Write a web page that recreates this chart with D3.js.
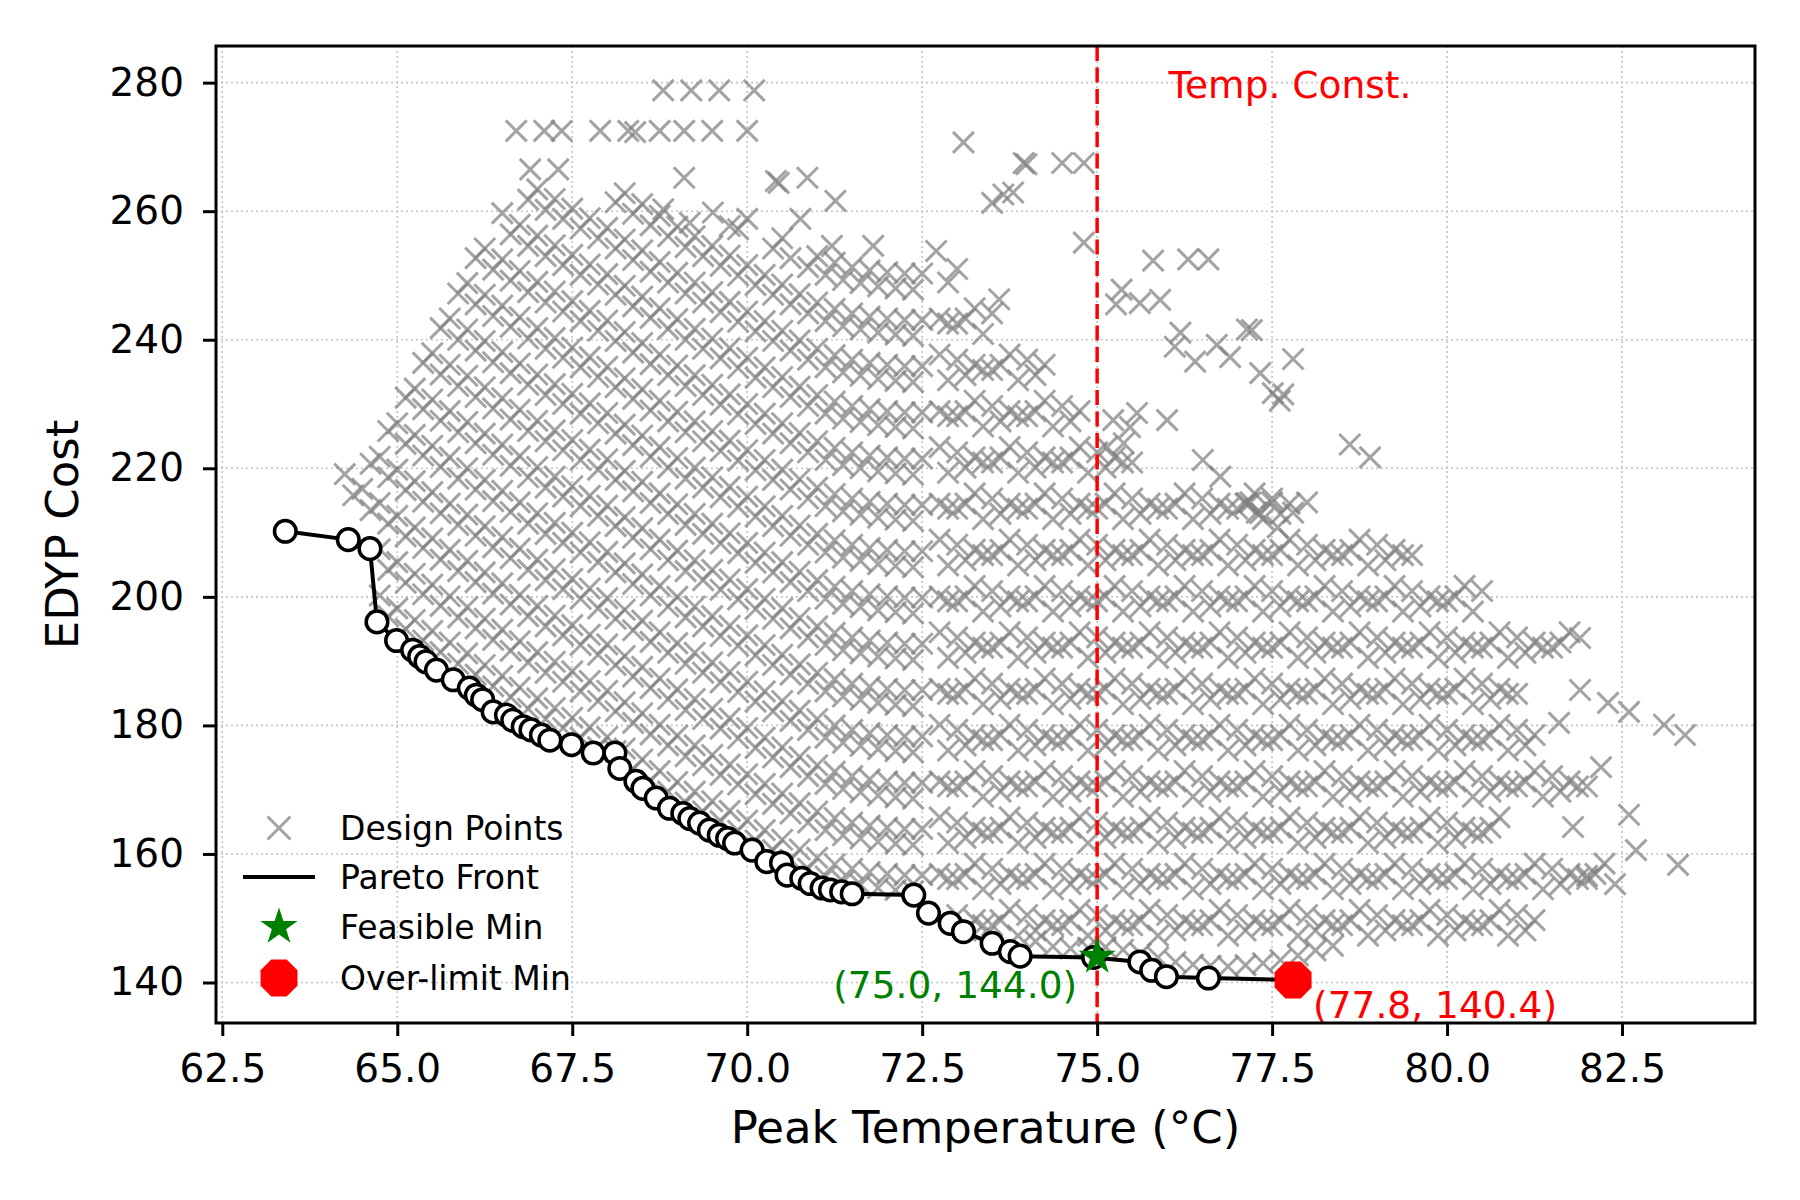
<!DOCTYPE html>
<html>
<head>
<meta charset="utf-8">
<script src="https://cdn.jsdelivr.net/npm/d3@7"></script>
<style>
body { margin: 0; background: #fff; }
svg text { font-family: "DejaVu Sans", sans-serif; }
</style>
</head>
<body>
<div id="canvas"></div>
<script>
var width = 1800
var height = 1200
var plotLeft = 216, plotRight = 1755, plotTop = 46, plotBottom = 1023

// tick labels
var xTicks = [62.5, 65, 67.5, 70, 72.5, 75, 77.5, 80, 82.5]
var yTicks = [140, 160, 180, 200, 220, 240, 260, 280]

// pareto front (peak temperature, EDYP cost)
var paretoFront = [[63.40,210.2],[64.30,208.9],[64.61,207.5],[64.71,196.1],[64.99,193.2],[65.22,191.7],[65.32,190.7],[65.41,189.9],[65.56,188.6],[65.80,187.1],[66.03,185.8],[66.13,184.7],[66.22,184.0],[66.37,182.1],[66.56,181.6],[66.65,180.8],[66.80,179.8],[66.91,179.3],[67.06,178.5],[67.18,177.7],[67.49,177.0],[67.80,175.7],[68.11,175.7],[68.18,173.3],[68.41,171.3],[68.51,170.2],[68.70,168.7],[68.89,167.1],[69.08,166.3],[69.18,165.5],[69.32,164.8],[69.46,163.7],[69.60,162.9],[69.72,162.4],[69.82,161.7],[70.07,160.6],[70.28,158.8],[70.49,158.6],[70.57,156.7],[70.78,156.2],[70.90,155.4],[71.07,154.7],[71.19,154.4],[71.35,154.1],[71.50,153.8],[72.38,153.6],[72.59,150.8],[72.90,149.2],[73.09,147.9],[73.50,146.1],[73.76,144.8],[73.90,144.1],[74.95,143.9],[75.61,143.2],[75.78,141.9],[75.99,140.9],[76.59,140.7],[77.80,140.4]]

var feasibleMin = [75.0, 144.0]
var overLimitMin = [77.8, 140.4]
var tempLimit = 75.0

// design points, left block (below 72.5 C), one array per band
var designA0 = [[64.75,200.2],[65,198.2],[65.25,196.4],[65.5,194.7],[65.75,192.9],[66,191.2],[66.25,189.4],[66.5,187.7],[66.75,185.9],[67,184.2],[67.25,182.7],[67.5,181.2],[67.75,179.7],[68,178.2],[68.25,176.4],[68.5,174.7],[68.75,172.9],[69,171.2],[69.25,169.7],[69.5,168.2],[69.75,166.7],[70,165.2],[70.25,163.7],[70.5,162.2],[70.75,160.7],[71,159.4],[71.25,158.4],[71.5,157.7],[71.75,157.2],[72,156.9],[72.25,156.7],[72.5,156.7],
  [64.87,197],[65.12,195],[65.37,193.2],[65.62,191.4],[65.87,189.6],[66.12,187.9],[66.37,186.1],[66.62,184.4],[66.87,182.6],[67.12,181],[67.37,179.6],[67.62,178.1],[67.87,176.6],[68.12,176],[68.37,173.2],[68.62,171.4],[68.87,169.7],[69.12,168],[69.37,166.6],[69.62,165.1],[69.87,163.6],[70.12,162.1],[70.37,160.6],[70.62,159.1],[70.87,157.7],[71.12,156.5],[71.37,155.7],[71.62,155.2],[71.87,154.7],[72.12,154.4],[72.37,154.2]]
var designA1 = [[64.75,207.4],[65,205.4],[65.25,203.6],[65.5,201.9],[65.75,200.1],[66,198.4],[66.25,196.6],[66.5,194.9],[66.75,193.1],[67,191.4],[67.25,189.9],[67.5,188.4],[67.75,186.9],[68,185.4],[68.25,183.6],[68.5,181.9],[68.75,180.1],[69,178.4],[69.25,176.9],[69.5,175.4],[69.75,173.9],[70,172.4],[70.25,170.9],[70.5,169.4],[70.75,167.9],[71,166.6],[71.25,165.6],[71.5,164.9],[71.75,164.4],[72,164.1],[72.25,163.9],[72.5,163.9],
  [64.87,204.2],[65.12,202.2],[65.37,200.4],[65.62,198.6],[65.87,196.8],[66.12,195.1],[66.37,193.3],[66.62,191.6],[66.87,189.8],[67.12,188.2],[67.37,186.8],[67.62,185.3],[67.87,183.8],[68.12,182.2],[68.37,180.4],[68.62,178.6],[68.87,176.9],[69.12,175.2],[69.37,173.8],[69.62,172.3],[69.87,170.8],[70.12,169.3],[70.37,167.8],[70.62,166.3],[70.87,164.9],[71.12,163.7],[71.37,162.9],[71.62,162.4],[71.87,161.9],[72.12,161.6],[72.37,161.4]]
var designA2 = [[64.25,219.1],[64.5,216.8],[64.75,214.6],[65,212.6],[65.25,210.8],[65.5,209.1],[65.75,207.3],[66,205.6],[66.25,203.8],[66.5,202.1],[66.75,200.3],[67,198.6],[67.25,197.1],[67.5,195.6],[67.75,194.1],[68,192.6],[68.25,190.8],[68.5,189.1],[68.75,187.3],[69,185.6],[69.25,184.1],[69.5,182.6],[69.75,181.1],[70,179.6],[70.25,178.1],[70.5,176.6],[70.75,175.1],[71,173.8],[71.25,172.8],[71.5,172.1],[71.75,171.6],[72,171.3],[72.25,171.1],[72.5,171.1],
  [64.37,215.8],[64.62,213.5],[64.87,211.4],[65.12,209.4],[65.37,207.6],[65.62,205.8],[65.87,204],[66.12,202.3],[66.37,200.5],[66.62,198.8],[66.87,197],[67.12,195.4],[67.37,194],[67.62,192.5],[67.87,191],[68.12,189.4],[68.37,187.6],[68.62,185.8],[68.87,184.1],[69.12,182.4],[69.37,181],[69.62,179.5],[69.87,178],[70.12,176.5],[70.37,175],[70.62,173.5],[70.87,172.1],[71.12,170.9],[71.37,170.1],[71.62,169.6],[71.87,169.1],[72.12,168.8],[72.37,168.6]]
var designA3 = [[64.75,221.8],[65,219.8],[65.25,218],[65.5,216.3],[65.75,214.5],[66,212.8],[66.25,211],[66.5,209.3],[66.75,207.5],[67,205.8],[67.25,204.3],[67.5,202.8],[67.75,201.3],[68,199.8],[68.25,198],[68.5,196.3],[68.75,194.5],[69,192.8],[69.25,191.3],[69.5,189.8],[69.75,188.3],[70,186.8],[70.25,185.3],[70.5,183.8],[70.75,182.3],[71,181],[71.25,180],[71.5,179.3],[71.75,178.8],[72,178.5],[72.25,178.3],[72.5,178.3],
  [64.62,220.7],[64.87,218.6],[65.12,216.6],[65.37,214.8],[65.62,213],[65.87,211.2],[66.12,209.5],[66.37,207.7],[66.62,206],[66.87,204.2],[67.12,202.6],[67.37,201.2],[67.62,199.7],[67.87,198.2],[68.12,196.6],[68.37,194.8],[68.62,193],[68.87,191.3],[69.12,189.6],[69.37,188.2],[69.62,186.7],[69.87,185.2],[70.12,183.7],[70.37,182.2],[70.62,180.7],[70.87,179.3],[71.12,178.1],[71.37,177.3],[71.62,176.8],[71.87,176.3],[72.12,176],[72.37,175.8]]
var designA4 = [[65,227],[65.25,225.2],[65.5,223.5],[65.75,221.7],[66,220],[66.25,218.2],[66.5,216.5],[66.75,214.7],[67,213],[67.25,211.5],[67.5,210],[67.75,208.5],[68,207],[68.25,205.2],[68.5,203.5],[68.75,201.7],[69,200],[69.25,198.5],[69.5,197],[69.75,195.5],[70,194],[70.25,192.5],[70.5,191],[70.75,189.5],[71,188.2],[71.25,187.2],[71.5,186.5],[71.75,186],[72,185.7],[72.25,185.5],[72.5,185.5],
  [64.87,225.8],[65.12,223.8],[65.37,222],[65.62,220.2],[65.87,218.4],[66.12,216.7],[66.37,214.9],[66.62,213.2],[66.87,211.4],[67.12,209.8],[67.37,208.4],[67.62,206.9],[67.87,205.4],[68.12,203.8],[68.37,202],[68.62,200.2],[68.87,198.5],[69.12,196.8],[69.37,195.4],[69.62,193.9],[69.87,192.4],[70.12,190.9],[70.37,189.4],[70.62,187.9],[70.87,186.5],[71.12,185.3],[71.37,184.5],[71.62,184],[71.87,183.5],[72.12,183.2],[72.37,183]]
var designA5 = [[65.25,232.4],[65.5,230.7],[65.75,228.9],[66,227.2],[66.25,225.4],[66.5,223.7],[66.75,221.9],[67,220.2],[67.25,218.7],[67.5,217.2],[67.75,215.7],[68,214.2],[68.25,212.4],[68.5,210.7],[68.75,208.9],[69,207.2],[69.25,205.7],[69.5,204.2],[69.75,202.7],[70,201.2],[70.25,199.7],[70.5,198.2],[70.75,196.7],[71,195.4],[71.25,194.4],[71.5,193.7],[71.75,193.2],[72,192.9],[72.25,192.7],[72.5,192.7],
  [65.12,231],[65.37,229.2],[65.62,227.4],[65.87,225.6],[66.12,223.9],[66.37,222.1],[66.62,220.4],[66.87,218.6],[67.12,217],[67.37,215.6],[67.62,214.1],[67.87,212.6],[68.12,211],[68.37,209.2],[68.62,207.4],[68.87,205.7],[69.12,204],[69.37,202.6],[69.62,201.1],[69.87,199.6],[70.12,198.1],[70.37,196.6],[70.62,195.1],[70.87,193.7],[71.12,192.5],[71.37,191.7],[71.62,191.2],[71.87,190.7],[72.12,190.4],[72.37,190.2]]
var designA6 = [[65.5,237.9],[65.75,236.1],[66,234.4],[66.25,232.6],[66.5,230.9],[66.75,229.1],[67,227.4],[67.25,225.9],[67.5,224.4],[67.75,222.9],[68,221.4],[68.25,219.6],[68.5,217.9],[68.75,216.1],[69,214.4],[69.25,212.9],[69.5,211.4],[69.75,209.9],[70,208.4],[70.25,206.9],[70.5,205.4],[70.75,203.9],[71,202.6],[71.25,201.6],[71.5,200.9],[71.75,200.4],[72,200.1],[72.25,199.9],[72.5,199.9],
  [65.37,236.4],[65.62,234.6],[65.87,232.8],[66.12,231.1],[66.37,229.3],[66.62,227.6],[66.87,225.8],[67.12,224.2],[67.37,222.8],[67.62,221.3],[67.87,219.8],[68.12,218.2],[68.37,216.4],[68.62,214.6],[68.87,212.9],[69.12,211.2],[69.37,209.8],[69.62,208.3],[69.87,206.8],[70.12,205.3],[70.37,203.8],[70.62,202.3],[70.87,200.9],[71.12,199.7],[71.37,198.9],[71.62,198.4],[71.87,197.9],[72.12,197.6],[72.37,197.4]]
var designA7 = [[65.75,243.3],[66,241.6],[66.25,239.8],[66.5,238.1],[66.75,236.3],[67,234.6],[67.25,233.1],[67.5,231.6],[67.75,230.1],[68,228.6],[68.25,226.8],[68.5,225.1],[68.75,223.3],[69,221.6],[69.25,220.1],[69.5,218.6],[69.75,217.1],[70,215.6],[70.25,214.1],[70.5,212.6],[70.75,211.1],[71,209.8],[71.25,208.8],[71.5,208.1],[71.75,207.6],[72,207.3],[72.25,207.1],[72.5,207.1],
  [65.62,241.8],[65.87,240],[66.12,238.3],[66.37,236.5],[66.62,234.8],[66.87,233],[67.12,231.4],[67.37,230],[67.62,228.5],[67.87,227],[68.12,225.4],[68.37,223.6],[68.62,221.8],[68.87,220.1],[69.12,218.4],[69.37,217],[69.62,215.5],[69.87,214],[70.12,212.5],[70.37,211],[70.62,209.5],[70.87,208.1],[71.12,206.9],[71.37,206.1],[71.62,205.6],[71.87,205.1],[72.12,204.8],[72.37,204.6]]
var designA8 = [[66,248.8],[66.25,247],[66.5,245.3],[66.75,243.5],[67,241.8],[67.25,240.3],[67.5,238.8],[67.75,237.3],[68,235.8],[68.25,234],[68.5,232.3],[68.75,230.5],[69,228.8],[69.25,227.3],[69.5,225.8],[69.75,224.3],[70,222.8],[70.25,221.3],[70.5,219.8],[70.75,218.3],[71,217],[71.25,216],[71.5,215.3],[71.75,214.8],[72,214.5],[72.25,214.3],[72.5,214.3],
  [65.87,247.2],[66.12,245.5],[66.37,243.7],[66.62,242],[66.87,240.2],[67.12,238.6],[67.37,237.2],[67.62,235.7],[67.87,234.2],[68.12,232.6],[68.37,230.8],[68.62,229],[68.87,227.3],[69.12,225.6],[69.37,224.2],[69.62,222.7],[69.87,221.2],[70.12,219.7],[70.37,218.2],[70.62,216.7],[70.87,215.3],[71.12,214.1],[71.37,213.3],[71.62,212.8],[71.87,212.3],[72.12,212],[72.37,211.8]]
var designA9 = [[66.25,254.2],[66.5,252.5],[66.75,250.7],[67,249],[67.25,247.5],[67.5,246],[67.75,244.5],[68,243],[68.25,241.2],[68.5,239.5],[68.75,237.7],[69,236],[69.25,234.5],[69.5,233],[69.75,231.5],[70,230],[70.25,228.5],[70.5,227],[70.75,225.5],[71,224.2],[71.25,223.2],[71.5,222.5],[71.75,222],[72,221.7],[72.25,221.5],[72.5,221.5],
  [66.12,252.7],[66.37,250.9],[66.62,249.2],[66.87,247.4],[67.12,245.8],[67.37,244.4],[67.62,242.9],[67.87,241.4],[68.12,239.8],[68.37,238],[68.62,236.2],[68.87,234.5],[69.12,232.8],[69.37,231.4],[69.62,229.9],[69.87,228.4],[70.12,226.9],[70.37,225.4],[70.62,223.9],[70.87,222.5],[71.12,221.3],[71.37,220.5],[71.62,220],[71.87,219.5],[72.12,219.2],[72.37,219]]
var designA10 = [[66.5,259.7],[66.75,257.9],[67,256.2],[67.25,254.7],[67.5,253.2],[67.75,251.7],[68,250.2],[68.25,248.4],[68.5,246.7],[68.75,244.9],[69,243.2],[69.25,241.7],[69.5,240.2],[69.75,238.7],[70,237.2],[70.25,235.7],[70.5,234.2],[70.75,232.7],[71,231.4],[71.25,230.4],[71.5,229.7],[71.75,229.2],[72,228.9],[72.25,228.7],[72.5,228.7],
  [66.62,256.4],[66.87,254.6],[67.12,253],[67.37,251.6],[67.62,250.1],[67.87,248.6],[68.12,247],[68.37,245.2],[68.62,243.4],[68.87,241.7],[69.12,240],[69.37,238.6],[69.62,237.1],[69.87,235.6],[70.12,234.1],[70.37,232.6],[70.62,231.1],[70.87,229.7],[71.12,228.5],[71.37,227.7],[71.62,227.2],[71.87,226.7],[72.12,226.4],[72.37,226.2]]
var designA11 = [[67,263.4],[67.25,261.9],[67.5,260.4],[67.75,258.9],[68,257.4],[68.25,255.6],[68.5,253.9],[68.75,252.1],[69,250.4],[69.25,248.9],[69.5,247.4],[69.75,245.9],[70,244.4],[70.25,242.9],[70.5,241.4],[70.75,239.9],[71,238.6],[71.25,237.6],[71.5,236.9],[71.75,236.4],[72,236.1],[72.25,235.9],[72.5,235.9],
  [66.87,261.8],[67.12,260.2],[67.37,258.8],[67.62,257.3],[67.87,255.8],[68.12,254.2],[68.37,252.4],[68.62,250.6],[68.87,248.9],[69.12,247.2],[69.37,245.8],[69.62,244.3],[69.87,242.8],[70.12,241.3],[70.37,239.8],[70.62,238.3],[70.87,236.9],[71.12,235.7],[71.37,234.9],[71.62,234.4],[71.87,233.9],[72.12,233.6],[72.37,233.4]]
var designA12 = [[68.25,262.8],[68.5,261.1],[68.75,259.3],[69,257.6],[69.25,256.1],[69.5,254.6],[69.75,253.1],[70,251.6],[70.25,250.1],[70.5,248.6],[70.75,247.1],[71,245.8],[71.25,244.8],[71.5,244.1],[71.75,243.6],[72,243.3],[72.25,243.1],[72.5,243.1],
  [68.12,261.4],[68.37,259.6],[68.62,257.8],[68.87,256.1],[69.12,254.4],[69.37,253],[69.62,251.5],[69.87,250],[70.12,248.5],[70.37,247],[70.62,245.5],[70.87,244.1],[71.12,242.9],[71.37,242.1],[71.62,241.6],[71.87,241.1],[72.12,240.8],[72.37,240.6]]
var designA13 = [[70,258.8],[70.5,255.8],[71,253],[71.25,252],[71.5,251.3],[71.75,250.8],[72,250.5],[72.25,250.3],[72.5,250.3],
  [69.87,257.2],[70.37,254.2],[70.62,252.7],[70.87,251.3],[71.12,250.1],[71.37,249.3],[71.62,248.8],[71.87,248.3],[72.12,248],[72.37,247.8]]

// design points, right block (crossing chains), one array per band
var designB0 = [[73,150.5],[73.25,149.7],[73.5,148.9],[73.75,151.3],[74,150.5],[74.25,149.7],[74.5,148.9],[74.75,151.3],[75,150.5],[75.25,149.7],[75.5,148.9],[75.75,151.3],[76,150.5],[76.25,149.7],[76.5,148.9],[76.75,151.3],[77,150.5],[77.25,149.7],[77.5,148.9],[77.75,151.3],[78,150.5],[78.25,149.7],[78.5,148.9],[78.75,151.3],[79,150.5],[79.25,149.7],[79.5,148.9],[79.75,151.3],[80,150.5],[80.25,149.7],[80.5,148.9],[80.75,151.3],[81,150.5],[81.25,149.7],
  [73.12,148.1],[73.37,148.9],[73.62,149.7],[73.87,147.3],[74.12,148.1],[74.37,148.9],[74.62,149.7],[74.87,147.3],[75.12,148.1],[75.37,148.9],[75.62,149.7],[75.87,147.3],[76.12,148.1],[76.37,148.9],[76.62,149.7],[76.87,147.3],[77.12,148.1],[77.37,148.9],[77.62,149.7],[77.87,147.3],[78.12,148.1],[78.37,148.9],[78.62,149.7],[78.87,147.3],[79.12,148.1],[79.37,148.9],[79.62,149.7],[79.87,147.3],[80.12,148.1],[80.37,148.9],[80.62,149.7],[80.87,147.3],[81.12,148.1]]
var designB1 = [[72.75,156.9],[73,156.1],[73.25,158.5],[73.5,157.7],[73.75,156.9],[74,156.1],[74.25,158.5],[74.5,157.7],[74.75,156.9],[75,156.1],[75.25,158.5],[75.5,157.7],[75.75,156.9],[76,156.1],[76.25,158.5],[76.5,157.7],[76.75,156.9],[77,156.1],[77.25,158.5],[77.5,157.7],[77.75,156.9],[78,156.1],[78.25,158.5],[78.5,157.7],[78.75,156.9],[79,156.1],[79.25,158.5],[79.5,157.7],[79.75,156.9],[80,156.1],[80.25,158.5],[80.5,157.7],[80.75,156.9],[81,156.1],[81.25,158.5],[81.5,157.7],[81.75,156.9],[82,156.1],[82.25,158.5],
  [72.87,156.1],[73.12,156.9],[73.37,154.5],[73.62,155.3],[73.87,156.1],[74.12,156.9],[74.37,154.5],[74.62,155.3],[74.87,156.1],[75.12,156.9],[75.37,154.5],[75.62,155.3],[75.87,156.1],[76.12,156.9],[76.37,154.5],[76.62,155.3],[76.87,156.1],[77.12,156.9],[77.37,154.5],[77.62,155.3],[77.87,156.1],[78.12,156.9],[78.37,154.5],[78.62,155.3],[78.87,156.1],[79.12,156.9],[79.37,154.5],[79.62,155.3],[79.87,156.1],[80.12,156.9],[80.37,154.5],[80.62,155.3],[80.87,156.1],[81.12,156.9],[81.37,154.5],[81.62,155.3],[81.87,156.1],[82.12,156.9]]
var designB2 = [[72.75,165.7],[73,164.9],[73.25,164.1],[73.5,163.3],[73.75,165.7],[74,164.9],[74.25,164.1],[74.5,163.3],[74.75,165.7],[75,164.9],[75.25,164.1],[75.5,163.3],[75.75,165.7],[76,164.9],[76.25,164.1],[76.5,163.3],[76.75,165.7],[77,164.9],[77.25,164.1],[77.5,163.3],[77.75,165.7],[78,164.9],[78.25,164.1],[78.5,163.3],[78.75,165.7],[79,164.9],[79.25,164.1],[79.5,163.3],[79.75,165.7],[80,164.9],[80.25,164.1],[80.5,163.3],[80.75,165.7],
  [72.87,161.7],[73.12,162.5],[73.37,163.3],[73.62,164.1],[73.87,161.7],[74.12,162.5],[74.37,163.3],[74.62,164.1],[74.87,161.7],[75.12,162.5],[75.37,163.3],[75.62,164.1],[75.87,161.7],[76.12,162.5],[76.37,163.3],[76.62,164.1],[76.87,161.7],[77.12,162.5],[77.37,163.3],[77.62,164.1],[77.87,161.7],[78.12,162.5],[78.37,163.3],[78.62,164.1],[78.87,161.7],[79.12,162.5],[79.37,163.3],[79.62,164.1],[79.87,161.7],[80.12,162.5],[80.37,163.3],[80.62,164.1]]
var designB3 = [[72.75,171.3],[73,170.5],[73.25,172.9],[73.5,172.1],[73.75,171.3],[74,170.5],[74.25,172.9],[74.5,172.1],[74.75,171.3],[75,170.5],[75.25,172.9],[75.5,172.1],[75.75,171.3],[76,170.5],[76.25,172.9],[76.5,172.1],[76.75,171.3],[77,170.5],[77.25,172.9],[77.5,172.1],[77.75,171.3],[78,170.5],[78.25,172.9],[78.5,172.1],[78.75,171.3],[79,170.5],[79.25,172.9],[79.5,172.1],[79.75,171.3],[80,170.5],[80.25,172.9],[80.5,172.1],[80.75,171.3],[81,170.5],[81.25,172.9],[81.5,172.1],[81.75,171.3],[82,170.5],
  [72.87,170.5],[73.12,171.3],[73.37,168.9],[73.62,169.7],[73.87,170.5],[74.12,171.3],[74.37,168.9],[74.62,169.7],[74.87,170.5],[75.12,171.3],[75.37,168.9],[75.62,169.7],[75.87,170.5],[76.12,171.3],[76.37,168.9],[76.62,169.7],[76.87,170.5],[77.12,171.3],[77.37,168.9],[77.62,169.7],[77.87,170.5],[78.12,171.3],[78.37,168.9],[78.62,169.7],[78.87,170.5],[79.12,171.3],[79.37,168.9],[79.62,169.7],[79.87,170.5],[80.12,171.3],[80.37,168.9],[80.62,169.7],[80.87,170.5],[81.12,171.3],[81.37,168.9],[81.62,169.7],[81.87,170.5]]
var designB4 = [[72.75,180.1],[73,179.3],[73.25,178.5],[73.5,177.7],[73.75,180.1],[74,179.3],[74.25,178.5],[74.5,177.7],[74.75,180.1],[75,179.3],[75.25,178.5],[75.5,177.7],[75.75,180.1],[76,179.3],[76.25,178.5],[76.5,177.7],[76.75,180.1],[77,179.3],[77.25,178.5],[77.5,177.7],[77.75,180.1],[78,179.3],[78.25,178.5],[78.5,177.7],[78.75,180.1],[79,179.3],[79.25,178.5],[79.5,177.7],[79.75,180.1],[80,179.3],[80.25,178.5],[80.5,177.7],[80.75,180.1],[81,179.3],[81.25,178.5],
  [72.87,176.1],[73.12,176.9],[73.37,177.7],[73.62,178.5],[73.87,176.1],[74.12,176.9],[74.37,177.7],[74.62,178.5],[74.87,176.1],[75.12,176.9],[75.37,177.7],[75.62,178.5],[75.87,176.1],[76.12,176.9],[76.37,177.7],[76.62,178.5],[76.87,176.1],[77.12,176.9],[77.37,177.7],[77.62,178.5],[77.87,176.1],[78.12,176.9],[78.37,177.7],[78.62,178.5],[78.87,176.1],[79.12,176.9],[79.37,177.7],[79.62,178.5],[79.87,176.1],[80.12,176.9],[80.37,177.7],[80.62,178.5],[80.87,176.1],[81.12,176.9]]
var designB5 = [[72.75,185.7],[73,184.9],[73.25,187.3],[73.5,186.5],[73.75,185.7],[74,184.9],[74.25,187.3],[74.5,186.5],[74.75,185.7],[75,184.9],[75.25,187.3],[75.5,186.5],[75.75,185.7],[76,184.9],[76.25,187.3],[76.5,186.5],[76.75,185.7],[77,184.9],[77.25,187.3],[77.5,186.5],[77.75,185.7],[78,184.9],[78.25,187.3],[78.5,186.5],[78.75,185.7],[79,184.9],[79.25,187.3],[79.5,186.5],[79.75,185.7],[80,184.9],[80.25,187.3],[80.5,186.5],[80.75,185.7],[81,184.9],
  [72.87,184.9],[73.12,185.7],[73.37,183.3],[73.62,184.1],[73.87,184.9],[74.12,185.7],[74.37,183.3],[74.62,184.1],[74.87,184.9],[75.12,185.7],[75.37,183.3],[75.62,184.1],[75.87,184.9],[76.12,185.7],[76.37,183.3],[76.62,184.1],[76.87,184.9],[77.12,185.7],[77.37,183.3],[77.62,184.1],[77.87,184.9],[78.12,185.7],[78.37,183.3],[78.62,184.1],[78.87,184.9],[79.12,185.7],[79.37,183.3],[79.62,184.1],[79.87,184.9],[80.12,185.7],[80.37,183.3],[80.62,184.1],[80.87,184.9]]
var designB6 = [[72.75,194.5],[73,193.7],[73.25,192.9],[73.5,192.1],[73.75,194.5],[74,193.7],[74.25,192.9],[74.5,192.1],[74.75,194.5],[75,193.7],[75.25,192.9],[75.5,192.1],[75.75,194.5],[76,193.7],[76.25,192.9],[76.5,192.1],[76.75,194.5],[77,193.7],[77.25,192.9],[77.5,192.1],[77.75,194.5],[78,193.7],[78.25,192.9],[78.5,192.1],[78.75,194.5],[79,193.7],[79.25,192.9],[79.5,192.1],[79.75,194.5],[80,193.7],[80.25,192.9],[80.5,192.1],[80.75,194.5],[81,193.7],[81.25,192.9],[81.5,192.1],[81.75,194.5],
  [72.87,190.5],[73.12,191.3],[73.37,192.1],[73.62,192.9],[73.87,190.5],[74.12,191.3],[74.37,192.1],[74.62,192.9],[74.87,190.5],[75.12,191.3],[75.37,192.1],[75.62,192.9],[75.87,190.5],[76.12,191.3],[76.37,192.1],[76.62,192.9],[76.87,190.5],[77.12,191.3],[77.37,192.1],[77.62,192.9],[77.87,190.5],[78.12,191.3],[78.37,192.1],[78.62,192.9],[78.87,190.5],[79.12,191.3],[79.37,192.1],[79.62,192.9],[79.87,190.5],[80.12,191.3],[80.37,192.1],[80.62,192.9],[80.87,190.5],[81.12,191.3],[81.37,192.1],[81.62,192.9]]
var designB7 = [[72.75,200.1],[73,199.3],[73.25,201.7],[73.5,200.9],[73.75,200.1],[74,199.3],[74.25,201.7],[74.5,200.9],[74.75,200.1],[75,199.3],[75.25,201.7],[75.5,200.9],[75.75,200.1],[76,199.3],[76.25,201.7],[76.5,200.9],[76.75,200.1],[77,199.3],[77.25,201.7],[77.5,200.9],[77.75,200.1],[78,199.3],[78.25,201.7],[78.5,200.9],[78.75,200.1],[79,199.3],[79.25,201.7],[79.5,200.9],[79.75,200.1],[80,199.3],[80.25,201.7],[80.5,200.9],
  [72.87,199.3],[73.12,200.1],[73.37,197.7],[73.62,198.5],[73.87,199.3],[74.12,200.1],[74.37,197.7],[74.62,198.5],[74.87,199.3],[75.12,200.1],[75.37,197.7],[75.62,198.5],[75.87,199.3],[76.12,200.1],[76.37,197.7],[76.62,198.5],[76.87,199.3],[77.12,200.1],[77.37,197.7],[77.62,198.5],[77.87,199.3],[78.12,200.1],[78.37,197.7],[78.62,198.5],[78.87,199.3],[79.12,200.1],[79.37,197.7],[79.62,198.5],[79.87,199.3],[80.12,200.1],[80.37,197.7]]
var designB8 = [[72.75,208.9],[73,208.1],[73.25,207.3],[73.5,206.5],[73.75,208.9],[74,208.1],[74.25,207.3],[74.5,206.5],[74.75,208.9],[75,208.1],[75.25,207.3],[75.5,206.5],[75.75,208.9],[76,208.1],[76.25,207.3],[76.5,206.5],[76.75,208.9],[77,208.1],[77.25,207.3],[77.5,206.5],[77.75,208.9],[78,208.1],[78.25,207.3],[78.5,206.5],[78.75,208.9],[79,208.1],[79.25,207.3],[79.5,206.5],
  [72.87,204.9],[73.12,205.7],[73.37,206.5],[73.62,207.3],[73.87,204.9],[74.12,205.7],[74.37,206.5],[74.62,207.3],[74.87,204.9],[75.12,205.7],[75.37,206.5],[75.62,207.3],[75.87,204.9],[76.12,205.7],[76.37,206.5],[76.62,207.3],[76.87,204.9],[77.12,205.7],[77.37,206.5],[77.62,207.3],[77.87,204.9],[78.12,205.7],[78.37,206.5],[78.62,207.3],[78.87,204.9],[79.12,205.7],[79.37,206.5]]
var designB9 = [[72.75,214.5],[73,213.7],[73.25,216.1],[73.5,215.3],[73.75,214.5],[74,213.7],[74.25,216.1],[74.5,215.3],[74.75,214.5],[75,213.7],[75.25,216.1],[75.5,215.3],[75.75,214.5],[76,213.7],[76.25,216.1],[76.5,215.3],[76.75,214.5],[77,213.7],[77.25,216.1],[77.5,215.3],[77.75,214.5],
  [72.87,213.7],[73.12,214.5],[73.37,212.1],[73.62,212.9],[73.87,213.7],[74.12,214.5],[74.37,212.1],[74.62,212.9],[74.87,213.7],[75.12,214.5],[75.37,212.1],[75.62,212.9],[75.87,213.7],[76.12,214.5],[76.37,212.1],[76.62,212.9],[76.87,213.7],[77.12,214.5],[77.37,212.1],[77.62,212.9]]
var designB10 = [[72.75,223.3],[73,222.5],[73.25,221.7],[73.5,220.9],[73.75,223.3],[74,222.5],[74.25,221.7],[74.5,220.9],[74.75,223.3],[75,222.5],[75.25,221.7],[75.5,220.9],
  [72.87,219.3],[73.12,220.1],[73.37,220.9],[73.62,221.7],[73.87,219.3],[74.12,220.1],[74.37,220.9],[74.62,221.7],[74.87,219.3],[75.12,220.1],[75.37,220.9]]
var designB11 = [[72.75,228.9],[73,228.1],[73.25,230.5],[73.5,229.7],[73.75,228.9],[74,228.1],[74.25,230.5],[74.5,229.7],[74.75,228.9],
  [72.87,228.1],[73.12,228.9],[73.37,226.5],[73.62,227.3],[73.87,228.1],[74.12,228.9],[74.37,226.5],[74.62,227.3]]
var designB12 = [[72.75,237.7],[73,236.9],[73.25,236.1],[73.5,235.3],[73.75,237.7],[74,236.9],[74.25,236.1],
  [72.87,233.7],[73.12,234.5],[73.37,235.3],[73.62,236.1],[73.87,233.7],[74.12,234.5]]
var designB13 = [[72.75,243.3],[73,242.5],[73.25,244.9],[73.5,244.1],
  [72.87,242.5],[73.12,243.3],[73.37,240.9],[72.87,248.9]]

// lowest points along the front, right of the limit
var designBottom = [[74.12,146.4],[74.37,145.6],[74.62,145.3],[74.87,145.4],[75.12,145.5],[75.37,145.1],[75.62,144.5],[75.87,143.9],[76.12,143.2],[76.37,142.8],[76.62,142.6],[76.87,142.5],[77.12,142.7],[77.37,143],[77.62,143.5],[77.87,144.2],[78.12,145],[78.37,145.7]]

// scattered points on the edges of the cloud
var designSparse = [[68.8,278.8],[69.2,278.8],[69.6,278.8],[70.1,278.8],
  [66.7,272.5],[67.1,272.5],[67.35,272.5],[67.9,272.5],[68.3,272.5],[68.4,272.3],[68.75,272.5],[69.1,272.5],[69.5,272.5],[70.0,272.5],
  [66.9,266.5],[67.3,266.5],[69.1,265.2],[70.41,264.7],[70.45,264.4],[70.86,265.2],[71.26,261.6],
  [68.8,260.3],[69.18,258.2],[69.51,259.8],[69.75,257.7],[70.76,258.8],[71.21,254.6],[71.8,254.6],[72.7,253.8],[73.0,251.0],[73.6,246.3],
  [73.09,270.7],[73.95,267.5],[73.99,267.3],[74.5,267.5],[74.81,267.5],[73.5,261.3],[73.66,262.6],[73.8,262.9],[74.81,255.1],
  [75.8,252.3],[76.3,252.5],[76.59,252.5],
  [75.35,247.8],[75.61,245.7],[75.9,246.2],[75.27,245.5],[76.19,241.1],[76.11,238.9],[76.4,236.6],[76.71,239.2],[76.9,237.3],[77.21,241.5],[77.14,241.6],[77.33,234.8],[77.51,231.7],[77.66,231.5],[77.61,230.5],[77.8,237.0],
  [75.23,227.5],[75.47,226.4],[75.57,228.6],[76.0,227.5],[75.14,223.3],[75.38,223.9],[76.51,221.3],[76.76,218.7],[77.14,214.6],[77.33,213.0],
  [78.61,223.7],[78.9,221.7],
  [77.19,214.7],[77.5,214.7],[78.0,214.7],[77.28,213.1],[77.8,213.1],[77.58,210.8],
  [81.9,193.6],[81.9,185.5],[82.3,183.5],[82.6,182.1],[83.1,180.1],[83.4,178.5],[81.6,180.4],[82.2,173.5],[81.8,164.2],[82.6,166.1],[82.7,160.6],[83.3,158.3],[82.4,155.3],[82.0,156.6]]

var designPoints = [].concat(designA0, designA1, designA2, designA3, designA4, designA5, designA6,
  designA7, designA8, designA9, designA10, designA11, designA12, designA13,
  designB0, designB1, designB2, designB3, designB4, designB5, designB6, designB7,
  designB8, designB9, designB10, designB11, designB12, designB13, designBottom, designSparse)

var svg = d3.select("#canvas")
    .append("svg")
    .attr("width", width)
    .attr("height", height)
    .style("display", "block")

var xScale = d3.scaleLinear().domain([62.41, 84.4]).range([plotLeft, plotRight])
var yScale = d3.scaleLinear().domain([133.7, 285.7]).range([plotBottom, plotTop])

svg.append("defs").append("clipPath").attr("id", "plotclip")
    .append("rect")
    .attr("x", plotLeft).attr("y", plotTop)
    .attr("width", plotRight - plotLeft).attr("height", plotBottom - plotTop)

// grid
var grid = svg.append("g")
grid.selectAll(".gx").data(xTicks).enter().append("line")
    .attr("x1", function (d) { return xScale(d) }).attr("x2", function (d) { return xScale(d) })
    .attr("y1", plotTop).attr("y2", plotBottom)
grid.selectAll(".gy").data(yTicks).enter().append("line")
    .attr("y1", function (d) { return yScale(d) }).attr("y2", function (d) { return yScale(d) })
    .attr("x1", plotLeft).attr("x2", plotRight)
grid.selectAll("line")
    .attr("stroke", "#c4c4c4")
    .attr("stroke-width", 1.6)
    .attr("stroke-dasharray", "2,3")

var plot = svg.append("g").attr("clip-path", "url(#plotclip)")

// design points
var crossPath = "M-10.5,-10.5L10.5,10.5M-10.5,10.5L10.5,-10.5"
plot.append("g").selectAll("path")
    .data(designPoints)
    .enter()
    .append("path")
    .attr("d", crossPath)
    .attr("transform", function (d) { return "translate(" + xScale(d[0]) + "," + yScale(d[1]) + ")" })
    .attr("stroke", "#808080")
    .attr("stroke-opacity", 0.72)
    .attr("stroke-width", 3)
    .attr("fill", "none")

// pareto front
var line = d3.line()
    .x(function (d) { return xScale(d[0]) })
    .y(function (d) { return yScale(d[1]) })
plot.append("path")
    .datum(paretoFront)
    .attr("d", line)
    .attr("fill", "none")
    .attr("stroke", "#000")
    .attr("stroke-width", 4)
plot.append("g").selectAll("circle")
    .data(paretoFront)
    .enter()
    .append("circle")
    .attr("cx", function (d) { return xScale(d[0]) })
    .attr("cy", function (d) { return yScale(d[1]) })
    .attr("r", 10.8)
    .attr("fill", "#fff")
    .attr("stroke", "#000")
    .attr("stroke-width", 3.5)

// temperature constraint
plot.append("line")
    .attr("x1", xScale(tempLimit)).attr("x2", xScale(tempLimit))
    .attr("y1", plotTop).attr("y2", plotBottom)
    .attr("stroke", "red")
    .attr("stroke-width", 3.5)
    .attr("stroke-dasharray", "15,6.5")

function octagon(r) {
    var pts = []
    for (var i = 0; i < 8; i++) {
        var a = Math.PI / 8 + i * Math.PI / 4
        pts.push([r * Math.cos(a), r * Math.sin(a)])
    }
    return "M" + pts.join("L") + "Z"
}
var starPath = d3.symbol().type(d3.symbolStar).size(430)()

plot.append("path")
    .attr("d", starPath)
    .attr("transform", "translate(" + xScale(feasibleMin[0]) + "," + yScale(feasibleMin[1]) + ")")
    .attr("fill", "green")
plot.append("path")
    .attr("d", octagon(20))
    .attr("transform", "translate(" + xScale(overLimitMin[0]) + "," + yScale(overLimitMin[1]) + ")")
    .attr("fill", "red")

// labels on the plot
svg.append("text")
    .attr("x", xScale(76.02)).attr("y", yScale(277.6))
    .attr("font-size", 37.5)
    .attr("fill", "red")
    .text("Temp. Const.")
svg.append("text")
    .attr("x", xScale(feasibleMin[0]) - 20).attr("y", yScale(feasibleMin[1]) + 41)
    .attr("text-anchor", "end")
    .attr("font-size", 37.5)
    .attr("fill", "green")
    .text("(" + feasibleMin[0].toFixed(1) + ", " + feasibleMin[1].toFixed(1) + ")")
svg.append("text")
    .attr("x", xScale(overLimitMin[0]) + 20).attr("y", yScale(overLimitMin[1]) + 38)
    .attr("font-size", 37.5)
    .attr("fill", "red")
    .text("(" + overLimitMin[0].toFixed(1) + ", " + overLimitMin[1].toFixed(1) + ")")

// axes
var xAxis = svg.append("g")
    .attr("transform", "translate(0," + plotBottom + ")")
    .call(d3.axisBottom(xScale).tickValues(xTicks).tickFormat(d3.format(".1f")).tickSize(13).tickPadding(18))
var yAxis = svg.append("g")
    .attr("transform", "translate(" + plotLeft + ",0)")
    .call(d3.axisLeft(yScale).tickValues(yTicks).tickFormat(d3.format("d")).tickSize(13).tickPadding(19))
svg.selectAll(".domain").remove()
svg.selectAll(".tick line").attr("stroke", "#000").attr("stroke-width", 3)
svg.selectAll(".tick text")
    .attr("font-size", 39)
    .attr("font-family", "DejaVu Sans")
    .attr("fill", "#000")

svg.append("rect")
    .attr("x", plotLeft).attr("y", plotTop)
    .attr("width", plotRight - plotLeft).attr("height", plotBottom - plotTop)
    .attr("fill", "none")
    .attr("stroke", "#000")
    .attr("stroke-width", 3)

svg.append("text")
    .attr("x", (plotLeft + plotRight) / 2).attr("y", 1143)
    .attr("text-anchor", "middle")
    .attr("font-size", 45)
    .text("Peak Temperature (°C)")
svg.append("text")
    .attr("transform", "translate(78," + (plotTop + plotBottom) / 2 + ") rotate(-90)")
    .attr("text-anchor", "middle")
    .attr("font-size", 45)
    .text("EDYP Cost")

// legend
var legend = svg.append("g")
var legendRows = [828, 877, 927, 978]
var legendNames = ["Design Points", "Pareto Front", "Feasible Min", "Over-limit Min"]
legend.append("path")
    .attr("d", "M-11.5,-11.5L11.5,11.5M-11.5,11.5L11.5,-11.5")
    .attr("transform", "translate(279," + legendRows[0] + ")")
    .attr("stroke", "#808080").attr("stroke-opacity", 0.72).attr("stroke-width", 3)
legend.append("line")
    .attr("x1", 243).attr("x2", 315)
    .attr("y1", legendRows[1]).attr("y2", legendRows[1])
    .attr("stroke", "#000").attr("stroke-width", 4)
legend.append("path")
    .attr("d", starPath)
    .attr("transform", "translate(279," + legendRows[2] + ")")
    .attr("fill", "green")
legend.append("path")
    .attr("d", octagon(20))
    .attr("transform", "translate(279," + legendRows[3] + ")")
    .attr("fill", "red")
legend.selectAll("text")
    .data(legendNames)
    .enter()
    .append("text")
    .attr("x", 340)
    .attr("y", function (d, i) { return legendRows[i] })
    .attr("dy", "0.35em")
    .attr("font-size", 33)
    .text(function (d) { return d })
</script>
</body>
</html>
